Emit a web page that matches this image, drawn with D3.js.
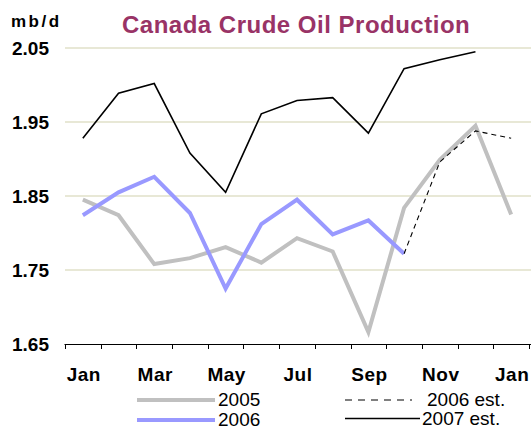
<!DOCTYPE html>
<html>
<head>
<meta charset="utf-8">
<script src="https://cdn.jsdelivr.net/npm/d3@7"></script>
<style>
  html, body { margin: 0; padding: 0; background: #fff; }
  svg { display: block; }
  text { font-family: "Liberation Sans", Arial, sans-serif; }
</style>
</head>
<body>
<svg id="chart" width="531" height="427"></svg>
<script>
// ---- data ----
const months = ["Jan","Feb","Mar","Apr","May","Jun","Jul","Aug","Sep","Oct","Nov","Dec","Jan"];
const tickLabels = ["Jan","","Mar","","May","","Jul","","Sep","","Nov","","Jan"];
const yTicks = [1.65, 1.75, 1.85, 1.95, 2.05];
const s2005    = [1.845,1.824,1.758,1.766,1.781,1.760,1.793,1.775,1.666,1.834,1.899,1.945,1.825];
const s2006    = [1.824,1.855,1.876,1.827,1.725,1.812,1.845,1.798,1.817,1.772,null,null,null];
const s2006est = [null,null,null,null,null,null,null,null,null,1.772,1.896,1.938,1.928];
const s2007est = [1.928,1.989,2.002,1.908,1.855,1.961,1.979,1.983,1.935,2.022,2.034,2.045,null];
const seriesNames = ["2005","2006","2006 est.","2007 est."];

// ---- layout ----
const svg = d3.select("#chart");
const idx = d3.range(months.length);
const x = d3.scaleBand().domain(idx).range([65, 529]).paddingInner(0).paddingOuter(0);
const y = d3.scaleLinear().domain([1.65, 2.05]).range([344, 48]);
const cx = i => x(i) + x.bandwidth() / 2;

// gridlines
svg.append("g").selectAll("line")
  .data(yTicks.filter(t => t > 1.65))
  .join("line")
  .attr("x1", 65).attr("x2", 531)
  .attr("y1", d => y(d)).attr("y2", d => y(d))
  .attr("stroke", "#d2d2ae").attr("stroke-width", 1.2);

// y labels
svg.append("g").selectAll("text")
  .data(yTicks)
  .join("text")
  .attr("x", 49).attr("y", d => y(d) + 6.5)
  .attr("text-anchor", "end")
  .attr("font-size", 19).attr("font-weight", "bold")
  .attr("fill", "#000")
  .text(d => d.toFixed(2));

// x axis
const xAxis = d3.axisBottom(x).tickSize(0).tickFormat(() => "");
const gx = svg.append("g").attr("transform", "translate(0,344)").call(xAxis);
gx.select(".domain").attr("stroke", "#000").attr("stroke-width", 1.2)
  .attr("d", "M64.5,0.5H531");
gx.selectAll(".tick").remove();
// boundary ticks
const bounds = d3.range(months.length + 1).map(i => i < months.length ? x(i) : x(months.length - 1) + x.bandwidth());
gx.selectAll("line.bt").data(bounds).join("line")
  .attr("class", "bt")
  .attr("x1", d => Math.round(d) + 0.5).attr("x2", d => Math.round(d) + 0.5)
  .attr("y1", 0).attr("y2", 5)
  .attr("stroke", "#000").attr("stroke-width", 1);
// x labels
svg.append("g").selectAll("text")
  .data(idx)
  .join("text")
  .attr("x", d => cx(d) + 1)
  .attr("y", 381)
  .attr("text-anchor", "middle")
  .attr("font-size", 19).attr("font-weight", "bold")
  .attr("letter-spacing", 0.5)
  .text(d => tickLabels[d]);

// lines
const line = d3.line()
  .defined(d => d.v !== null)
  .x(d => cx(d.i))
  .y(d => y(d.v));
const toPts = arr => arr.map((v, i) => ({ i, v }));

svg.append("path").datum(toPts(s2005))
  .attr("d", line).attr("fill", "none")
  .attr("stroke", "#c0c0c0").attr("stroke-width", 4).attr("stroke-linejoin", "miter");
svg.append("path").datum(toPts(s2006))
  .attr("d", line).attr("fill", "none")
  .attr("stroke", "#9999ff").attr("stroke-width", 4).attr("stroke-linejoin", "miter");
svg.append("path").datum(toPts(s2006est))
  .attr("d", line).attr("fill", "none")
  .attr("stroke", "#000").attr("stroke-width", 1.1).attr("stroke-dasharray", "5,4");
svg.append("path").datum(toPts(s2007est))
  .attr("d", line).attr("fill", "none")
  .attr("stroke", "#000").attr("stroke-width", 1.6).attr("stroke-linejoin", "miter");

// title & unit
svg.append("text")
  .attr("x", 122).attr("y", 33)
  .attr("font-size", 24).attr("font-weight", "bold")
  .attr("letter-spacing", 0.5)
  .attr("fill", "#993366")
  .text("Canada Crude Oil Production");
svg.append("text")
  .attr("x", 11).attr("y", 27)
  .attr("font-size", 17).attr("font-weight", "bold")
  .attr("letter-spacing", 2.5)
  .text("mb/d");

// legend
const legendItems = [
  { name: seriesNames[0], x1: 137, x2: 215, ly: 400, tx: 218, color: "#c0c0c0", w: 4, dash: null },
  { name: seriesNames[1], x1: 137, x2: 215, ly: 420, tx: 218, color: "#9999ff", w: 4, dash: null },
  { name: seriesNames[2], x1: 345, x2: 412, ly: 400, tx: 427, color: "#000", w: 1.1, dash: "7,6" },
  { name: seriesNames[3], x1: 345, x2: 420, ly: 418.5, tx: 422, color: "#000", w: 1.6, dash: null }
];
const lg = svg.append("g").selectAll("g").data(legendItems).join("g");
lg.append("line")
  .attr("x1", d => d.x1).attr("x2", d => d.x2)
  .attr("y1", d => d.ly).attr("y2", d => d.ly)
  .attr("stroke", d => d.color).attr("stroke-width", d => d.w)
  .attr("stroke-dasharray", d => d.dash);
lg.append("text")
  .attr("x", d => d.tx).attr("y", d => d.ly + 6)
  .attr("font-size", 19)
  .text(d => d.name);
</script>
</body>
</html>
